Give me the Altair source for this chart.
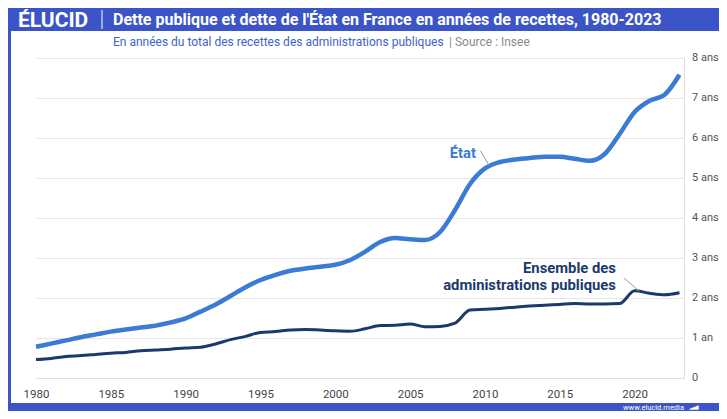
import altair as alt
import pandas as pd

years = list(range(1980, 2024))
etat = [0.78, 0.86, 0.94, 1.02, 1.09, 1.16, 1.21, 1.26, 1.31, 1.39,
        1.49, 1.66, 1.84, 2.05, 2.27, 2.45, 2.58, 2.68, 2.74, 2.78,
        2.83, 2.95, 3.16, 3.40, 3.50, 3.47, 3.45, 3.65, 4.20, 4.85,
        5.24, 5.40, 5.46, 5.50, 5.53, 5.53, 5.48, 5.43, 5.60, 6.10,
        6.65, 6.93, 7.08, 7.58]
ensemble = [0.46, 0.49, 0.54, 0.56, 0.59, 0.62, 0.64, 0.68, 0.70, 0.72,
            0.75, 0.77, 0.85, 0.96, 1.04, 1.14, 1.16, 1.20, 1.21, 1.20,
            1.18, 1.17, 1.23, 1.31, 1.32, 1.35, 1.28, 1.29, 1.37, 1.70,
            1.72, 1.74, 1.77, 1.80, 1.82, 1.84, 1.86, 1.85, 1.85, 1.86,
            2.18, 2.12, 2.08, 2.13]

x_ticks = [1980, 1985, 1990, 1995, 2000, 2005, 2010, 2015, 2020]
y_ticks = [0, 1, 2, 3, 4, 5, 6, 7, 8]
y_labels = ["0", "1 an", "2 ans", "3 ans", "4 ans", "5 ans", "6 ans", "7 ans", "8 ans"]

title_text = "Dette publique et dette de l'État en France en années de recettes, 1980-2023"
subtitle_text = "En années du total des recettes des administrations publiques"
source_text = "|  Source : Insee"

# annotation labels (anchored in data space)
lab_etat = [{"x": 2009.4, "y": 5.6, "t": "État"}]
lab_ens = [{"x": 2018.75, "y": 2.72, "t": "Ensemble des"},
           {"x": 2018.75, "y": 2.30, "t": "administrations publiques"}]
leaders = [{"x": 2009.7, "y": 5.68, "x2": 2010.25, "y2": 5.33},
           {"x": 2019.3, "y": 2.5, "x2": 2020.3, "y2": 2.17}]

BLUE = "#3b55c9"
C_ETAT = "#3a7bd5"
C_ENS = "#1b3a6c"
FONT = "Roboto"
W = 648

df = pd.DataFrame({"year": years, "etat": etat, "ens": ensemble})
df_y = pd.DataFrame({"v": [float(v) for v in y_ticks], "lab": y_labels})

xs = alt.Scale(domain=[1980, 2023.3], nice=False, zero=False)
ys = alt.Scale(domain=[0, 8], nice=False, zero=True)

x_axis = alt.Axis(
    values=x_ticks, format="d", title=None, grid=False, ticks=False,
    domain=True, domainColor="#dddddd", labelColor="#444444", labelFontSize=11.5,
    labelPadding=10, labelFont=FONT, labelFlush=False, labelOverlap=False)
y_axis = alt.Axis(values=y_ticks, orient="right", title=None, grid=True,
                  gridColor="#e6e6e6", ticks=False, domain=True, domainColor="#dddddd",
                  labels=False)

line_ens = alt.Chart(df).mark_line(color=C_ENS, strokeWidth=3, interpolate="monotone").encode(
    x=alt.X("year:Q", scale=xs, axis=x_axis), y=alt.Y("ens:Q", scale=ys, axis=y_axis))
line_etat = alt.Chart(df).mark_line(color=C_ETAT, strokeWidth=4.5, interpolate="monotone").encode(
    x=alt.X("year:Q", scale=xs, axis=x_axis), y=alt.Y("etat:Q", scale=ys, axis=y_axis))

# right-hand tick labels, placed through the y scale
ylab = alt.Chart(df_y).mark_text(align="left", baseline="middle", font=FONT, fontSize=11,
                                 color="#555555").encode(
    x=alt.value(W + 8), y=alt.Y("v:Q", scale=ys, axis=y_axis), text=alt.Text("lab:N"))

lead = alt.Chart(alt.Data(values=leaders)).mark_rule(color="#999999", strokeWidth=1).encode(
    x=alt.X("x:Q", scale=xs, axis=x_axis), y=alt.Y("y:Q", scale=ys, axis=y_axis), x2="x2:Q", y2="y2:Q")

t_etat = alt.Chart(alt.Data(values=lab_etat)).mark_text(
    align="right", baseline="middle", font=FONT, fontSize=14.8, fontWeight="bold", color=C_ETAT).encode(
    x=alt.X("x:Q", scale=xs, axis=x_axis), y=alt.Y("y:Q", scale=ys, axis=y_axis), text="t:N")
t_ens = alt.Chart(alt.Data(values=lab_ens)).mark_text(
    align="right", baseline="middle", font=FONT, fontSize=14.8, fontWeight="bold", color=C_ENS).encode(
    x=alt.X("x:Q", scale=xs, axis=x_axis), y=alt.Y("y:Q", scale=ys, axis=y_axis), text="t:N")

one = alt.Data(values=[{"a": 1}])

header = alt.Chart(one).mark_rect(color=BLUE).encode(
    x=alt.value(-28), x2=alt.value(700), y=alt.value(-50), y2=alt.value(-27))
left_strip = alt.Chart(one).mark_rect(color=BLUE).encode(
    x=alt.value(-28), x2=alt.value(-25), y=alt.value(-50), y2=alt.value(354))
bottom_band = alt.Chart(one).mark_rect(color=BLUE).encode(
    x=alt.value(-28), x2=alt.value(700), y=alt.value(345), y2=alt.value(354))
sep = alt.Chart(one).mark_rule(color="white", strokeWidth=1).encode(
    x=alt.value(66), y=alt.value(-48), y2=alt.value(-29))
wedge = alt.Chart(one).mark_point(shape="M-1,0.3L1,-0.5L1,0.5L-1,0.5Z", filled=True, color="white",
                                  size=90, opacity=1).encode(
    x=alt.value(658), y=alt.value(349.5))

logo = alt.Chart(one).mark_text(align="left", baseline="middle", font=FONT, fontSize=21,
                                fontWeight="bold", color="white").encode(
    x=alt.value(-18), y=alt.value(-37.5), text=alt.value("ÉLUCID"))
title = alt.Chart(one).mark_text(align="left", baseline="middle", font=FONT, fontSize=16,
                                 fontWeight="bold", color="white").encode(
    x=alt.value(77), y=alt.value(-38.5), text=alt.value(title_text))
subtitle = alt.Chart(one).mark_text(align="left", baseline="middle", font=FONT, fontSize=12,
                                    color="#4063c9").encode(
    x=alt.value(77), y=alt.value(-16), text=alt.value(subtitle_text))
source = alt.Chart(one).mark_text(align="left", baseline="middle", font=FONT, fontSize=12,
                                  color="#8a8a8a").encode(
    x=alt.value(413), y=alt.value(-16), text=alt.value(source_text))
site = alt.Chart(one).mark_text(align="right", baseline="middle", font=FONT, fontSize=7.5,
                                color="white").encode(
    x=alt.value(648), y=alt.value(350), text=alt.value("www.elucid.media"))

chart = alt.layer(
    line_ens, line_etat, ylab, lead, t_etat, t_ens,
    header, left_strip, bottom_band, sep, wedge, logo, title, subtitle, source, site,
).properties(
    width=W, height=320,
    padding={"left": 28, "top": 50, "right": 35, "bottom": 33},
    autosize=alt.AutoSizeParams(type="none"),
    background="white",
).configure_view(stroke=None)

chart.save("out.html", embed_options={"renderer": "svg", "actions": False})
